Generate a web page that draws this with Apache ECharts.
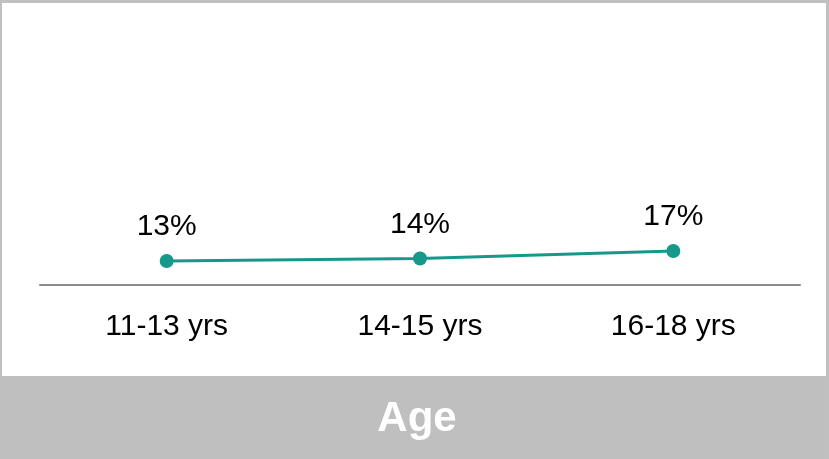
<!DOCTYPE html>
<html>
<head>
<meta charset="utf-8">
<script src="https://cdn.jsdelivr.net/npm/echarts@6/dist/echarts.min.js"></script>
<style>
  html, body { margin: 0; padding: 0; background: #ffffff; }
  #chart { width: 829px; height: 459px; }
</style>
</head>
<body>
<div id="chart"></div>
<script>
// Age groups and share per group (%)
const categories = ['11-13 yrs', '14-15 yrs', '16-18 yrs'];
const shareValues = [13, 14, 17];
const panelTitle = 'Age';

const chart = echarts.init(document.getElementById('chart'), null, { renderer: 'canvas' });

chart.setOption({
  animation: false,
  backgroundColor: '#ffffff',
  grid: {
    left: 40, right: 29, top: 44, bottom: 174,
    containLabel: false,
    outerBoundsMode: 'none'
  },
  xAxis: {
    type: 'category',
    data: categories,
    boundaryGap: true,
    axisLine: { show: true, onZero: false, lineStyle: { color: '#8c8c8c', width: 2 } },
    axisTick: { show: false },
    axisLabel: {
      color: '#000000',
      fontFamily: 'Liberation Sans, Arial, sans-serif',
      fontSize: 30,
      margin: 27
    }
  },
  yAxis: {
    type: 'value',
    min: 3.4,
    max: 100,
    show: false,
    splitLine: { show: false }
  },
  series: [{
    type: 'line',
    data: shareValues,
    symbol: 'circle',
    symbolSize: 14,
    lineStyle: { color: '#16998a', width: 3 },
    itemStyle: { color: '#16998a' },
    label: {
      show: true,
      position: 'top',
      distance: 12,
      formatter: '{c}%',
      color: '#000000',
      fontFamily: 'Liberation Sans, Arial, sans-serif',
      fontSize: 30
    }
  }],
  graphic: [
    {
      type: 'rect',
      left: 0, top: 376,
      shape: { width: 829, height: 83 },
      style: { fill: '#bfbfbf' },
      silent: true
    },
    {
      type: 'rect',
      left: 0, top: 0,
      shape: { width: 829, height: 3 },
      style: { fill: '#c0c0c0' },
      silent: true
    },
    {
      type: 'rect',
      left: 0, top: 0,
      shape: { width: 2, height: 459 },
      style: { fill: '#c0c0c0' },
      silent: true
    },
    {
      type: 'rect',
      left: 826, top: 0,
      shape: { width: 3, height: 459 },
      style: { fill: '#c0c0c0' },
      silent: true
    },
    {
      type: 'text',
      x: 417, y: 419,
      style: {
        text: panelTitle,
        fill: '#ffffff',
        font: 'bold 42px "Liberation Sans", Arial, sans-serif',
        align: 'center',
        verticalAlign: 'middle'
      },
      silent: true
    }
  ]
});
</script>
</body>
</html>
